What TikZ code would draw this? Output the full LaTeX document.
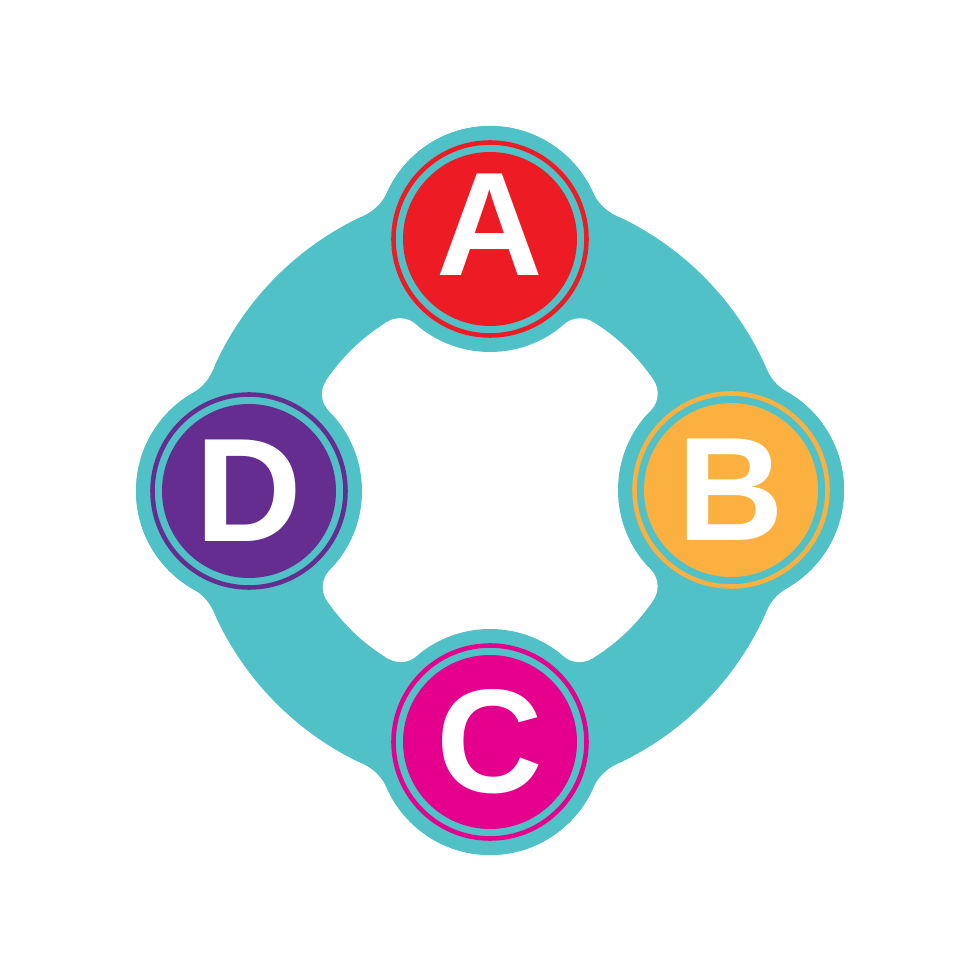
\documentclass[tikz,border=0pt]{standalone}
\usepackage{fontspec}
\setmainfont{Liberation Sans}
\usetikzlibrary{calc,intersections}
\definecolor{tealband}{RGB}{80,193,199}
\definecolor{cA}{RGB}{237,28,36}
\definecolor{cB}{RGB}{251,176,64}
\definecolor{cC}{RGB}{228,0,140}
\definecolor{cD}{RGB}{102,45,145}
\begin{document}
\begin{tikzpicture}[x=0.1mm,y=0.1mm,
  letter/.style={text=white,font=\fontsize{42}{44}\selectfont\bfseries,inner sep=0pt},
  ringline/.style={line width=1.3pt}]
\fill[white] (0,0) rectangle (980,980);
\useasboundingbox (0,0) rectangle (980,980);
\def\Rout{302}\def\Rin{197}\def\rn{113}\def\rof{48}\def\rhf{24}
\coordinate (O) at (490,490);
\coordinate (A) at (490,741);
\coordinate (B) at (731,490);
\coordinate (C) at (490,238);
\coordinate (D) at (249,489);
% band and node discs
\fill[tealband] (O) circle[radius=\Rout];
\foreach \n in {A,B,C,D} \fill[tealband] (\n) circle[radius=\rn];
% outer fillets
\foreach \n in {A,B,C,D}{
  \path[name path=big] (O) circle[radius=\Rout+\rof];
  \path[name path=sm] (\n) circle[radius=\rn+\rof];
  \path[name intersections={of=big and sm,name=F\n}];
  \fill[tealband] (O) -- (F\n-1) -- (\n) -- cycle;
  \fill[tealband] (O) -- (F\n-2) -- (\n) -- cycle;
  \fill[white] (F\n-1) circle[radius=\rof];
  \fill[white] (F\n-2) circle[radius=\rof];
}
% hole
\fill[white] (O) circle[radius=\Rin];
\foreach \n in {A,B,C,D} \fill[tealband] (\n) circle[radius=\rn];
\foreach \n in {A,B,C,D}{
  \path[name path=hin] (O) circle[radius=\Rin-\rhf];
  \path[name path=hsm] (\n) circle[radius=\rn+\rhf];
  \path[name intersections={of=hin and hsm,name=G\n}];
  \foreach \k in {1,2}{
    \coordinate (Q1) at ($(O)!{(\Rin-\rhf+36)/(\Rin-\rhf)}!(G\n-\k)$);
    \coordinate (Q2) at ($(G\n-\k)!{36/(\rn+\rhf)}!(\n)$);
    \coordinate (M) at ($(Q1)!0.5!(Q2)$);
    \coordinate (W) at ($(G\n-\k)!3!(M)$);
    \fill[tealband] (G\n-\k) -- (Q1) -- (W) -- (Q2) -- cycle;
    \fill[white] (G\n-\k) circle[radius=\rhf];
  }
}
% node rings and discs
\foreach \n/\c in {A/cA,B/cB,C/cC,D/cD}{
  \draw[\c,ringline] (\n) circle[radius=96.5];
  \fill[\c] (\n) circle[radius=87];
}
\node[letter] (lA) at ([yshift=4]A) {A};
\node[letter] (lB) at (B) {B};
\node[letter] (lC) at (C) {C};
\node[letter] (lD) at (D) {D};
\end{tikzpicture}
\end{document}
